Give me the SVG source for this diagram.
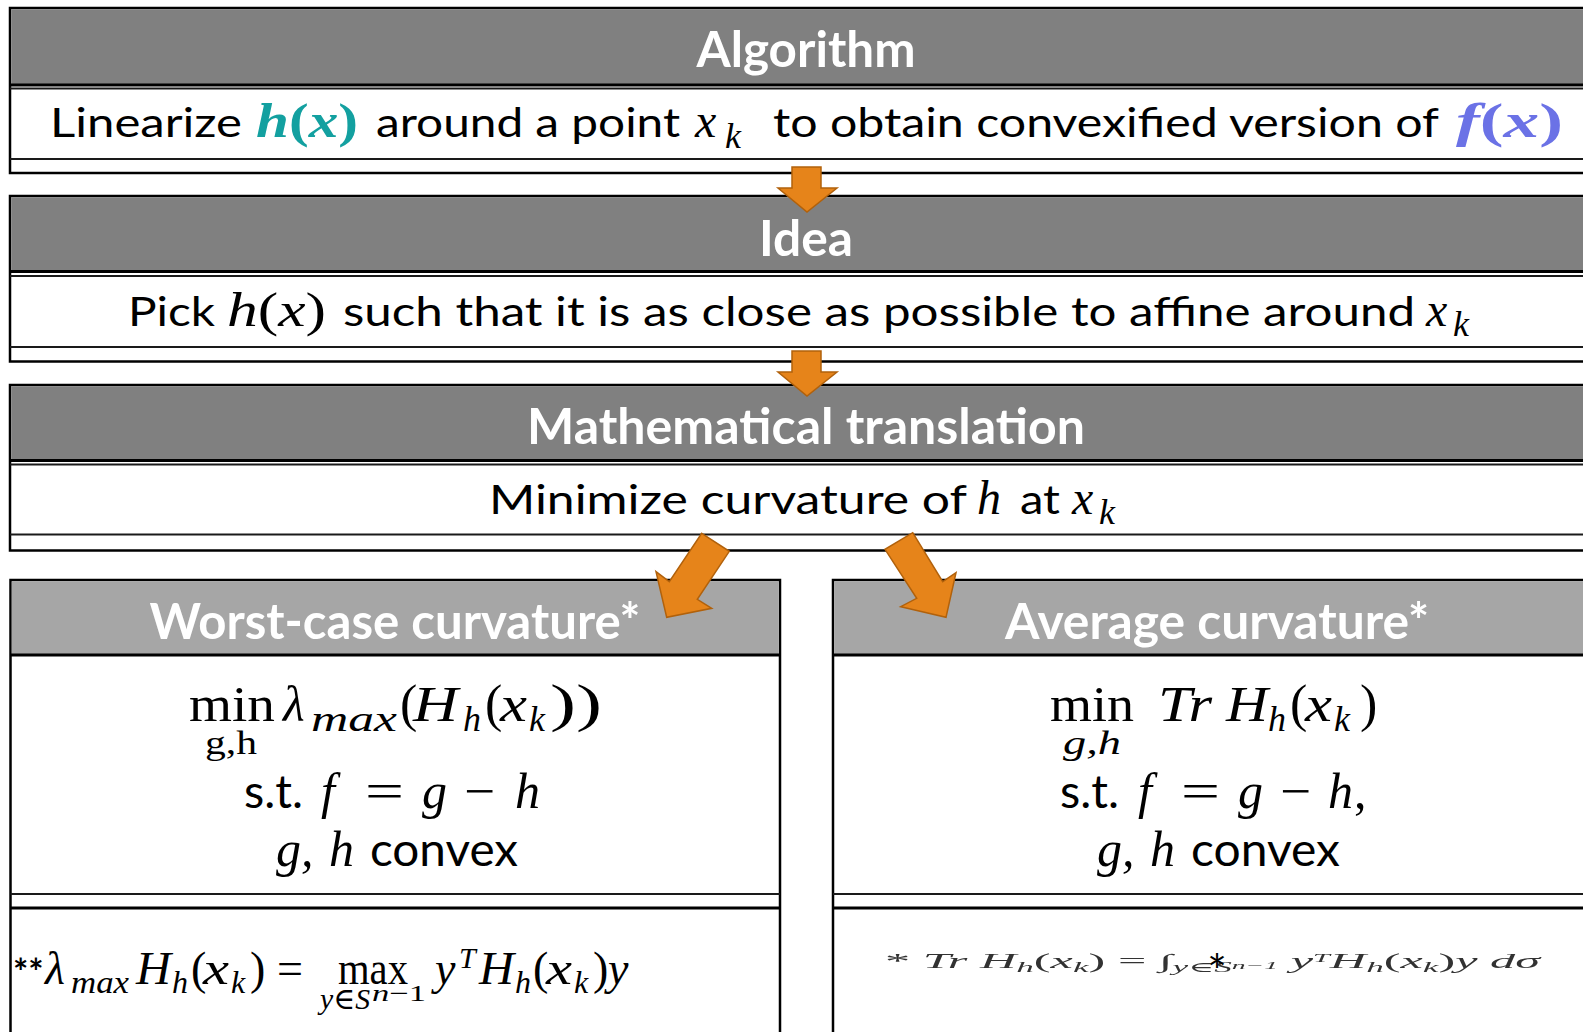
<svg xmlns="http://www.w3.org/2000/svg" width="1583" height="1032" viewBox="0 0 1583 1032">
<defs>
<style>
.frame{fill:#fff;stroke:#000;stroke-width:2.5}
.h1{fill:#808080}
.h2{fill:#a6a6a6}
.thick{stroke:#000;stroke-width:3}
.thin{stroke:#1a1a1a;stroke-width:2}
.ht{font-family:Lato,"Open Sans",sans-serif;font-weight:700;font-size:50px;fill:#fff;text-anchor:middle}
.bt{font-family:Lato,"Open Sans",sans-serif;font-size:40px;fill:#000}
.ft{font-family:Lato,"Open Sans",sans-serif;font-size:46px;fill:#000}
.m{font-family:"Liberation Serif","DejaVu Serif",serif;fill:#000}
.L{font-size:50px}
.M{font-size:48px}
.S{font-size:36px}
.F{font-size:46px}
.FS{font-size:32px}
.i{font-style:italic}
.n{font-style:normal}
.arrow{fill:#e6841a;stroke:#b1610b;stroke-width:1.5}
</style>
<filter id="blur" x="-5%" y="-50%" width="110%" height="200%"><feGaussianBlur stdDeviation="0.45"/></filter>
</defs>
<rect width="1583" height="1032" fill="#fff"/>

<g id="algorithm">
<rect class="frame" x="10" y="8" width="1600" height="165"/>
<rect class="h1" x="11.25" y="9.25" width="1600" height="75"/>
<line class="thick" x1="10" y1="85" x2="1600" y2="85"/>
<line class="thin" x1="10" y1="88.5" x2="1600" y2="88.5"/>
<line class="thin" x1="10" y1="159" x2="1600" y2="159"/>
<text class="ht" x="806" y="67" textLength="219" lengthAdjust="spacingAndGlyphs">Algorithm</text>
<text class="bt" x="50" y="137" textLength="192" lengthAdjust="spacingAndGlyphs">Linearize</text>
<text class="m M" x="256" y="137" style="fill:#13a0a0;font-weight:bold" textLength="102" lengthAdjust="spacingAndGlyphs"><tspan class="i">h</tspan><tspan class="n">(</tspan><tspan class="i">x</tspan><tspan class="n">)</tspan></text>
<text class="bt" x="376" y="137" textLength="304" lengthAdjust="spacingAndGlyphs">around a point</text>
<text class="m M i" x="695" y="137">x</text>
<text class="m S i" x="725" y="148">k</text>
<text class="bt" x="773" y="137" textLength="666" lengthAdjust="spacingAndGlyphs">to obtain convexified version of</text>
<text class="m M" x="1456" y="137" style="fill:#6b72e6;font-weight:bold" textLength="107" lengthAdjust="spacingAndGlyphs"><tspan class="i">f</tspan><tspan class="n">(</tspan><tspan class="i">x</tspan><tspan class="n">)</tspan></text>
</g>

<g id="idea">
<rect class="frame" x="10" y="196" width="1600" height="165.5"/>
<rect class="h1" x="11.25" y="197.25" width="1600" height="73"/>
<line class="thick" x1="10" y1="271.5" x2="1600" y2="271.5"/>
<line class="thin" x1="10" y1="276" x2="1600" y2="276"/>
<line class="thin" x1="10" y1="347" x2="1600" y2="347"/>
<text class="ht" x="806" y="256" textLength="94" lengthAdjust="spacingAndGlyphs">Idea</text>
<text class="bt" x="128" y="326" textLength="87" lengthAdjust="spacingAndGlyphs">Pick</text>
<text class="m M" x="227" y="326" textLength="99" lengthAdjust="spacingAndGlyphs"><tspan class="i">h</tspan><tspan class="n">(</tspan><tspan class="i">x</tspan><tspan class="n">)</tspan></text>
<text class="bt" x="343" y="326" textLength="1072" lengthAdjust="spacingAndGlyphs">such that it is as close as possible to affine around</text>
<text class="m M i" x="1426" y="326">x</text>
<text class="m S i" x="1453" y="336">k</text>
</g>

<g id="math-translation">
<rect class="frame" x="10" y="385" width="1600" height="165.5"/>
<rect class="h1" x="11.25" y="386.25" width="1600" height="73.5"/>
<line class="thick" x1="10" y1="460.5" x2="1600" y2="460.5"/>
<line class="thin" x1="10" y1="464.5" x2="1600" y2="464.5"/>
<line class="thin" x1="10" y1="534.5" x2="1600" y2="534.5"/>
<text class="ht" x="806" y="444" textLength="558" lengthAdjust="spacingAndGlyphs">Mathematical translation</text>
<text class="bt" x="489" y="514" textLength="478" lengthAdjust="spacingAndGlyphs">Minimize curvature of</text>
<text class="m M i" x="977" y="514">h</text>
<text class="bt" x="1020" y="514" textLength="40" lengthAdjust="spacingAndGlyphs">at</text>
<text class="m M i" x="1072" y="514">x</text>
<text class="m S i" x="1099" y="524">k</text>
</g>

<g id="worst-case">
<rect class="frame" x="10.5" y="580" width="769.5" height="470"/>
<rect class="h2" x="11.75" y="581.25" width="767" height="73"/>
<line class="thick" x1="10.5" y1="655" x2="780" y2="655"/>
<line class="thin" x1="10.5" y1="894" x2="780" y2="894"/>
<line class="thick" x1="10.5" y1="908" x2="780" y2="908"/>
<text class="ht" x="395" y="639" textLength="491" lengthAdjust="spacingAndGlyphs">Worst-case curvature*</text>
<text class="m L" x="189" y="721" textLength="86" lengthAdjust="spacingAndGlyphs">min</text>
<text class="m" style="font-size:34px" x="205" y="754" textLength="52" lengthAdjust="spacingAndGlyphs">g,h</text>
<text class="m L i" x="283" y="721">λ</text>
<text class="m S i" x="311" y="731" textLength="86" lengthAdjust="spacingAndGlyphs">max</text>
<text class="m" style="font-size:52px" x="400" y="721">(</text>
<text class="m L i" x="413" y="721" textLength="45" lengthAdjust="spacingAndGlyphs">H</text>
<text class="m S i" x="463" y="731">h</text>
<text class="m" style="font-size:52px" x="485" y="721">(</text>
<text class="m L i" x="500" y="721" textLength="27" lengthAdjust="spacingAndGlyphs">x</text>
<text class="m S i" x="529" y="731">k</text>
<text class="m" style="font-size:52px" x="550" y="721" textLength="52" lengthAdjust="spacingAndGlyphs">))</text>
<text class="ft" x="244" y="808" textLength="59" lengthAdjust="spacingAndGlyphs">s.t.</text>
<text class="m L i" x="321" y="808">f</text>
<text class="m L" x="365" y="808" textLength="39" lengthAdjust="spacingAndGlyphs">=</text>
<text class="m L i" x="422" y="808">g</text>
<text class="m L" x="464" y="808" textLength="31" lengthAdjust="spacingAndGlyphs">−</text>
<text class="m L i" x="515" y="808">h</text>
<text class="m L i" x="276" y="866">g,</text>
<text class="m L i" x="329" y="866">h</text>
<text class="ft" x="370" y="866" textLength="148" lengthAdjust="spacingAndGlyphs">convex</text>
<text x="13" y="985" style="font-family:Lato,sans-serif;font-weight:bold;font-size:36px">**</text>
<text class="m F i" x="45" y="984">λ</text>
<text class="m FS i" x="71" y="993" textLength="58" lengthAdjust="spacingAndGlyphs">max</text>
<text class="m F i" x="136" y="984" textLength="35" lengthAdjust="spacingAndGlyphs">H</text>
<text class="m FS i" x="172" y="993">h</text>
<text class="m F" x="191" y="984">(</text>
<text class="m F i" x="203" y="984" textLength="26" lengthAdjust="spacingAndGlyphs">x</text>
<text class="m FS i" x="231" y="993">k</text>
<text class="m F" x="250" y="984">)</text>
<text class="m F" x="277" y="984" textLength="26" lengthAdjust="spacingAndGlyphs">=</text>
<text class="m F" x="338" y="984" textLength="70" lengthAdjust="spacingAndGlyphs">max</text>
<text class="m i" style="font-size:30px" x="320" y="1009" textLength="50" lengthAdjust="spacingAndGlyphs">y∈S</text>
<text class="m" style="font-size:23px" x="372" y="1001" textLength="54" lengthAdjust="spacingAndGlyphs"><tspan class="i">n</tspan>−1</text>
<text class="m F i" x="435" y="984">y</text>
<text class="m i" style="font-size:30px" x="459" y="968">T</text>
<text class="m F i" x="479" y="984" textLength="35" lengthAdjust="spacingAndGlyphs">H</text>
<text class="m FS i" x="515" y="993">h</text>
<text class="m F" x="533" y="984">(</text>
<text class="m F i" x="546" y="984" textLength="26" lengthAdjust="spacingAndGlyphs">x</text>
<text class="m FS i" x="574" y="993">k</text>
<text class="m F" x="593" y="984">)</text>
<text class="m F i" x="608" y="984">y</text>
</g>

<g id="average">
<rect class="frame" x="833" y="580" width="800" height="470"/>
<rect class="h2" x="834.25" y="581.25" width="800" height="73"/>
<line class="thick" x1="833" y1="655" x2="1600" y2="655"/>
<line class="thin" x1="833" y1="894" x2="1600" y2="894"/>
<line class="thick" x1="833" y1="908" x2="1600" y2="908"/>
<text class="ht" x="1217" y="639" textLength="424" lengthAdjust="spacingAndGlyphs">Average curvature*</text>
<text class="m L" x="1050" y="721" textLength="84" lengthAdjust="spacingAndGlyphs">min</text>
<text class="m i" style="font-size:34px" x="1063" y="754" textLength="58" lengthAdjust="spacingAndGlyphs">g,h</text>
<text class="m L i" x="1158" y="721" textLength="54" lengthAdjust="spacingAndGlyphs">Tr</text>
<text class="m L i" x="1226" y="721" textLength="42" lengthAdjust="spacingAndGlyphs">H</text>
<text class="m S i" x="1268" y="731">h</text>
<text class="m" style="font-size:52px" x="1290" y="721">(</text>
<text class="m L i" x="1305" y="721" textLength="27" lengthAdjust="spacingAndGlyphs">x</text>
<text class="m S i" x="1334" y="731">k</text>
<text class="m" style="font-size:52px" x="1360" y="721">)</text>
<text class="ft" x="1060" y="808" textLength="59" lengthAdjust="spacingAndGlyphs">s.t.</text>
<text class="m L i" x="1138" y="808">f</text>
<text class="m L" x="1181" y="808" textLength="39" lengthAdjust="spacingAndGlyphs">=</text>
<text class="m L i" x="1238" y="808">g</text>
<text class="m L" x="1280" y="808" textLength="31" lengthAdjust="spacingAndGlyphs">−</text>
<text class="m L i" x="1328" y="808">h</text>
<text class="m L" x="1354" y="808">,</text>
<text class="m L i" x="1097" y="866">g,</text>
<text class="m L i" x="1150" y="866">h</text>
<text class="ft" x="1191" y="866" textLength="149" lengthAdjust="spacingAndGlyphs">convex</text>
<text class="m i" style="font-size:20px;fill:#333" x="885" y="968" filter="url(#blur)" textLength="655" lengthAdjust="spacingAndGlyphs"><tspan class="n">*</tspan> Tr H<tspan style="font-size:14px" dy="4">h</tspan><tspan class="n" dy="-4">(</tspan>x<tspan style="font-size:14px" dy="4">k</tspan><tspan class="n" dy="-4">)</tspan> <tspan class="n">=</tspan> <tspan class="n">∫</tspan><tspan style="font-size:14px" dy="4">y∈S</tspan><tspan style="font-size:11px" dy="-3">n−1</tspan> <tspan dy="-1">y</tspan><tspan style="font-size:12px" dy="-6">T</tspan><tspan dy="6">H</tspan><tspan style="font-size:14px" dy="4">h</tspan><tspan class="n" dy="-4">(</tspan>x<tspan style="font-size:14px" dy="4">k</tspan><tspan class="n" dy="-4">)</tspan>y dσ</text>
<text x="1217" y="988" style="font-family:Lato,sans-serif;font-size:46px;text-anchor:middle;fill:#000">*</text>
</g>

<g id="connectors">
<polygon class="arrow" points="792,167 821,167 821,188 837,188 807,212 778,188 792,188"/>
<polygon class="arrow" points="792,351 821,351 821,372 837,372 807,396 778,372 792,372"/>
<polygon class="arrow" points="701.7,533.3 729.3,551.3 697.3,599.3 711.7,608.3 666.7,617.3 656,571.7 669.3,581.7"/>
<polygon class="arrow" points="912.7,532.7 942.7,581.7 956,572.7 946,617.3 900.7,606.7 916.7,598.3 885,549.3"/>
</g>
</svg>
